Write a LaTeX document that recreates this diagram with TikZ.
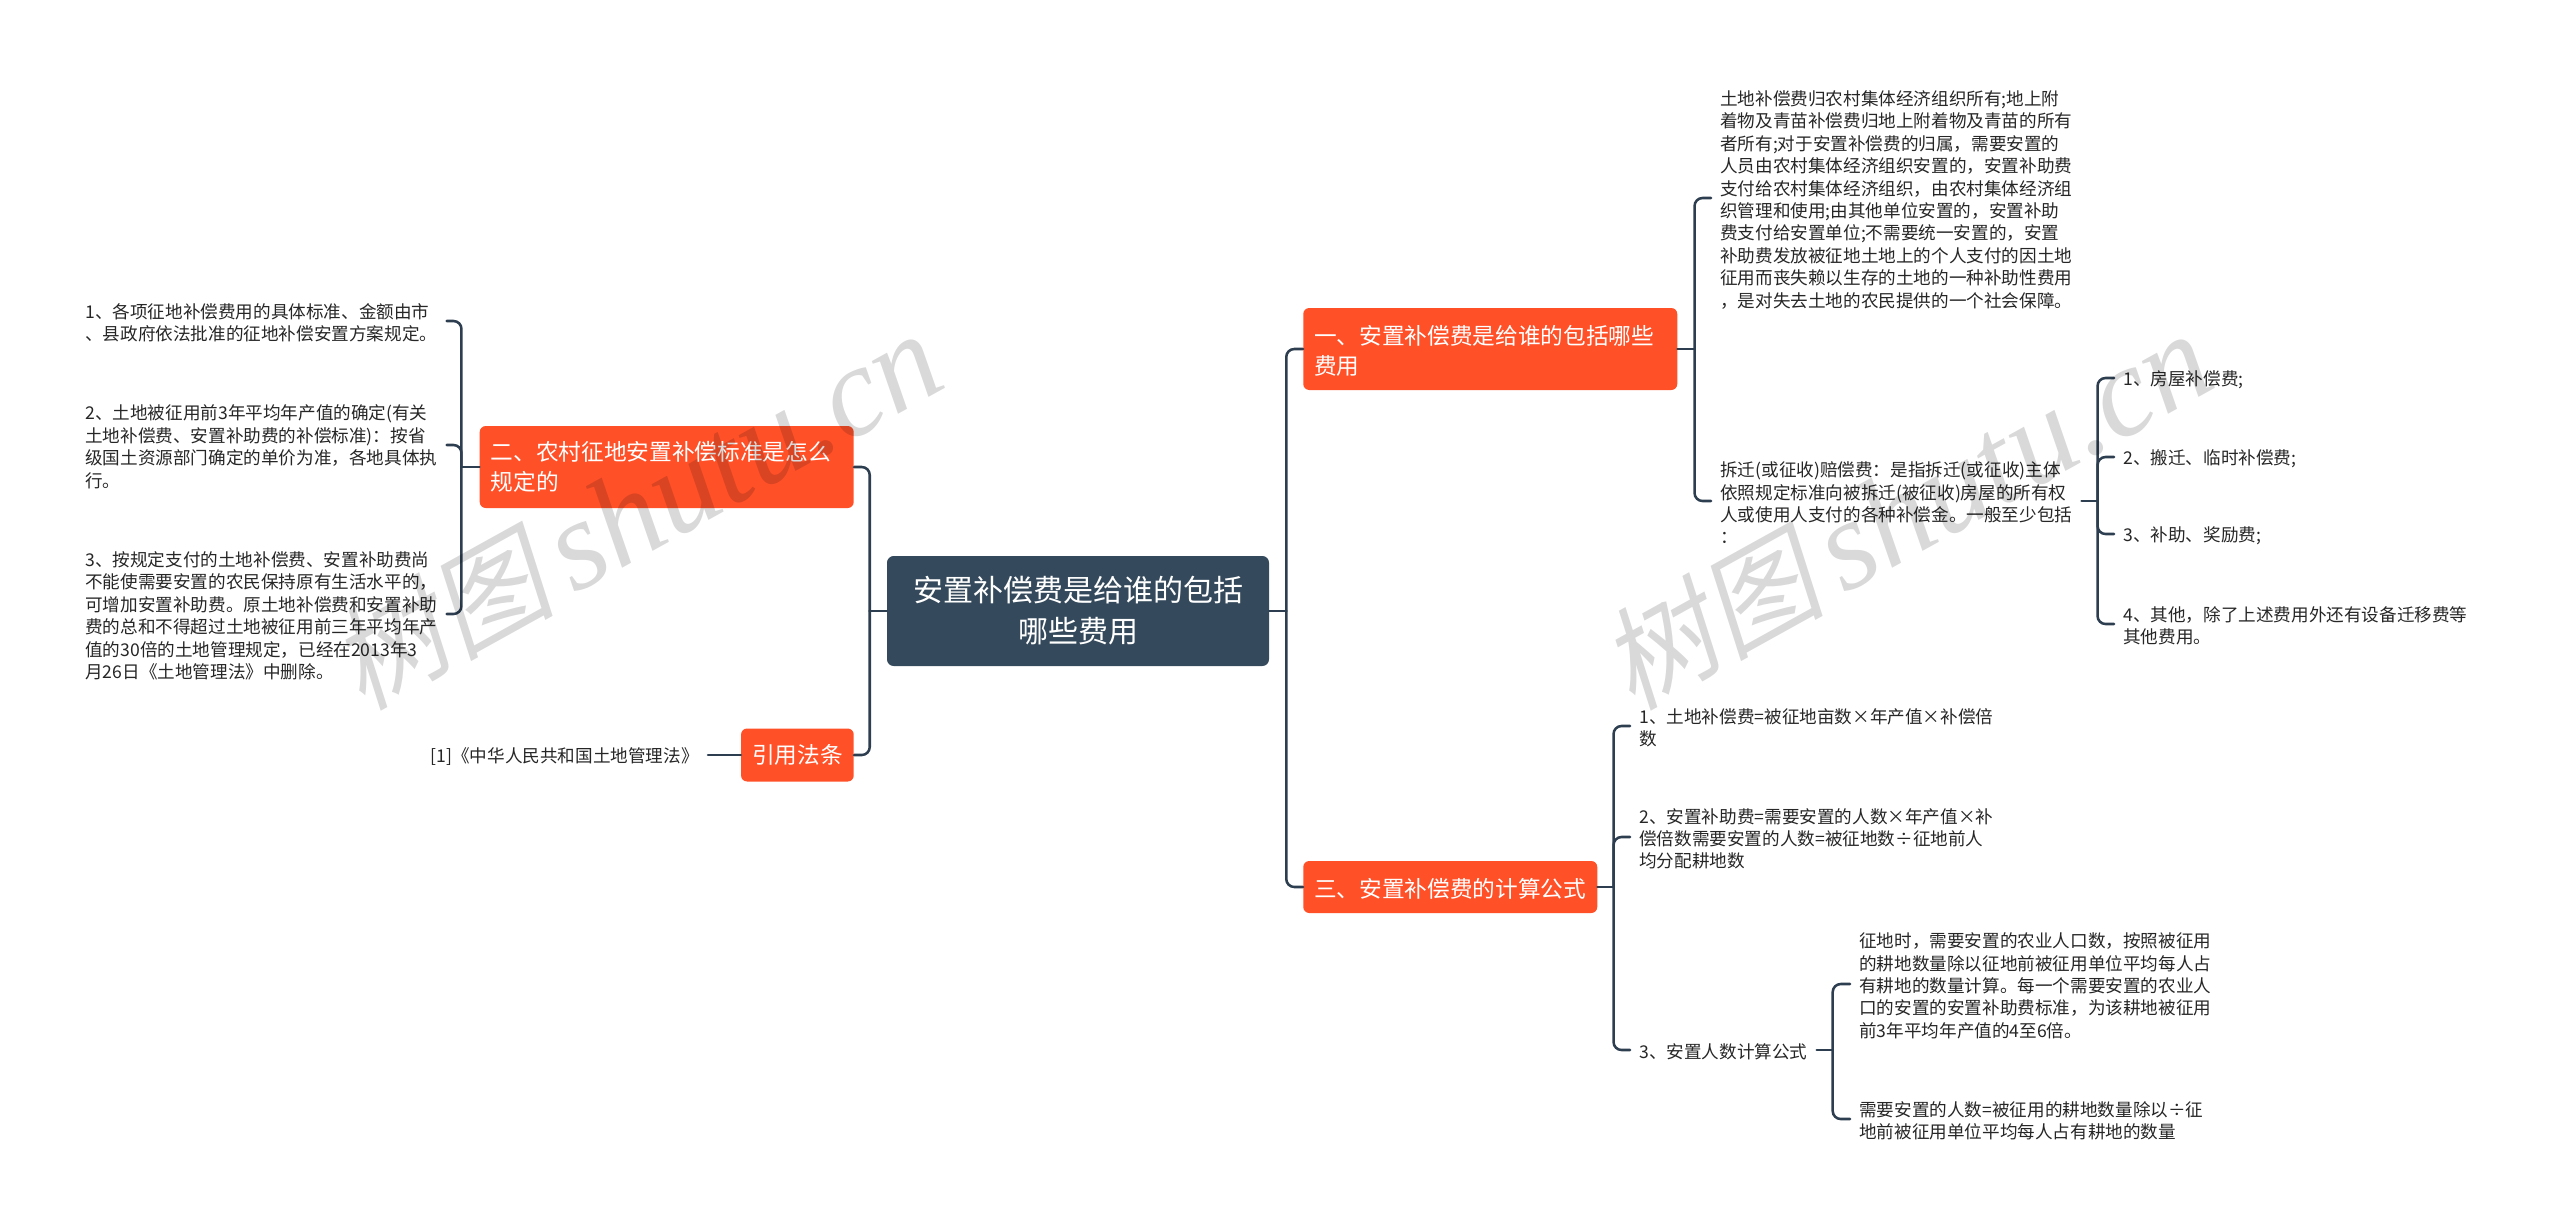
\documentclass[tikz,border=0pt]{standalone}
\usepackage{fontspec}
\setmainfont{Noto Sans CJK SC}
\newfontfamily\wmcjk[FakeSlant=0.2]{Noto Sans CJK SC}
\newfontfamily\wmlat{Liberation Serif}[ItalicFont={Liberation Serif Italic}]
\definecolor{linedark}{HTML}{2C3E50}
\definecolor{rootfill}{HTML}{34495B}
\definecolor{branchfill}{HTML}{FF5028}
\definecolor{leaftext}{HTML}{262626}
\newcommand{\leafstrut}{\rule{0pt}{1.05em}}
\tikzset{
  conn/.style={draw=linedark,line width=1.9pt,line cap=round},
  elbow/.style={conn,rounded corners=6pt},
  rootnode/.style={rectangle,rounded corners=5pt,fill=rootfill,text=white,inner sep=0pt,align=center,
    minimum width=286.5pt,minimum height=82.5pt,font=\fontsize{22.5}{30.75}\selectfont},
  branch/.style={rectangle,rounded corners=4.5pt,fill=branchfill,text=white,inner ysep=0pt,inner xsep=8.25pt,align=left,
    font=\fontsize{17}{22.5}\selectfont},
  leaf/.style={inner ysep=0pt,inner xsep=6.75pt,align=left,text=leaftext,
    font=\fontsize{13.2}{16.8}\selectfont},
  watermark/.style={rotate=29,anchor=base west,inner sep=0pt,text=black,text opacity=0.15}
}
\begin{document}
\begin{tikzpicture}[x=0.75pt,y=-0.75pt]
\useasboundingbox (0,0) rectangle (2560,1225);
\node[rootnode] (root) at (1078,611) {安置补偿费是给谁的包括\\哪些费用};
\node[branch,anchor=west,text width=264pt,minimum height=61.5pt] (b1) at (1303,349) {\rule{0pt}{1.05em}一、安置补偿费是给谁的包括哪些\\费用};
\node[branch,anchor=east,text width=264pt,minimum height=61.5pt] (b2) at (854,467) {二、农村征地安置补偿标准是怎么\\规定的};
\node[branch,anchor=east,minimum height=39.75pt] (b4) at (854,755) {引用法条};
\node[branch,anchor=west,minimum height=39pt] (b3) at (1303,887) {\rule{0pt}{1.05em}三、安置补偿费的计算公式};

\node[leaf,anchor=west,text width=264pt] (r1) at (1711,198) {\leafstrut 土地补偿费归农村集体经济组织所有;地上附\\着物及青苗补偿费归地上附着物及青苗的所有\\者所有;对于安置补偿费的归属，需要安置的\\人员由农村集体经济组织安置的，安置补助费\\支付给农村集体经济组织，由农村集体经济组\\织管理和使用;由其他单位安置的，安置补助\\费支付给安置单位;不需要统一安置的，安置\\补助费发放被征地土地上的个人支付的因土地\\征用而丧失赖以生存的土地的一种补助性费用\\，是对失去土地的农民提供的一个社会保障。};
\node[leaf,anchor=west,text width=264pt] (r2) at (1711,501) {\leafstrut 拆迁(或征收)赔偿费：是指拆迁(或征收)主体\\依照规定标准向被拆迁(被征收)房屋的所有权\\人或使用人支付的各种补偿金。一般至少包括\\：};
\node[leaf,anchor=west] (s1) at (2114,378) {\leafstrut 1、房屋补偿费;};
\node[leaf,anchor=west] (s2) at (2114,457) {\leafstrut 2、搬迁、临时补偿费;};
\node[leaf,anchor=west] (s3) at (2114,534) {\leafstrut 3、补助、奖励费;};
\node[leaf,anchor=west] (s4) at (2114,624) {\leafstrut 4、其他，除了上述费用外还有设备迁移费等\\其他费用。};

\node[leaf,anchor=west,text width=264pt] (l1) at (76,321) {\leafstrut 1、各项征地补偿费用的具体标准、金额由市\\、县政府依法批准的征地补偿安置方案规定。};
\node[leaf,anchor=west,text width=264pt] (l2) at (76,445) {\leafstrut 2、土地被征用前3年平均年产值的确定(有关\\土地补偿费、安置补助费的补偿标准)：按省\\级国土资源部门确定的单价为准，各地具体执\\行。};
\node[leaf,anchor=west,text width=264pt] (l3) at (76,614) {\leafstrut 3、按规定支付的土地补偿费、安置补助费尚\\不能使需要安置的农民保持原有生活水平的，\\可增加安置补助费。原土地补偿费和安置补助\\费的总和不得超过土地被征用前三年平均年产\\值的30倍的土地管理规定，已经在2013年3\\月26日《土地管理法》中删除。};
\node[leaf,anchor=east] (cite) at (708,755) {\leafstrut [1]《中华人民共和国土地管理法》};

\node[leaf,anchor=west] (f1) at (1630,726) {\leafstrut 1、土地补偿费=被征地亩数×年产值×补偿倍\\数};
\node[leaf,anchor=west] (f2) at (1630,837) {\leafstrut 2、安置补助费=需要安置的人数×年产值×补\\偿倍数需要安置的人数=被征地数÷征地前人\\均分配耕地数};
\node[leaf,anchor=west] (f3) at (1630,1050) {\leafstrut 3、安置人数计算公式};
\node[leaf,anchor=west] (g1) at (1850,984) {\leafstrut 征地时，需要安置的农业人口数，按照被征用\\的耕地数量除以征地前被征用单位平均每人占\\有耕地的数量计算。每一个需要安置的农业人\\口的安置的安置补助费标准，为该耕地被征用\\前3年平均年产值的4至6倍。};
\node[leaf,anchor=west] (g2) at (1850,1119) {\leafstrut 需要安置的人数=被征用的耕地数量除以÷征\\地前被征用单位平均每人占有耕地的数量};

\draw[conn] (root.east) -- ++(17,0) coordinate (jr);
\draw[conn] (root.west) -- ++(-17,0) coordinate (jl);
\draw[elbow] (jr) |- (b1.west);
\draw[elbow] (jr) |- (b3.west);
\draw[elbow] (jl) |- (b2.east);
\draw[elbow] (jl) |- (b4.east);
\draw[conn] (b1.east) -- ++(17,0) coordinate (j1);
\draw[elbow] (j1) |- (r1.west);
\draw[elbow] (j1) |- (r2.west);
\draw[conn] (r2.east) -- ++(16,0) coordinate (j2);
\draw[elbow] (j2) |- (s1.west);
\draw[elbow] (j2) |- (s2.west);
\draw[elbow] (j2) |- (s3.west);
\draw[elbow] (j2) |- (s4.west);
\draw[conn] (b2.west) -- ++(-18,0) coordinate (j3);
\draw[elbow] (j3) |- (l1.east);
\draw[elbow] (j3) |- (l2.east);
\draw[elbow] (j3) |- (l3.east);
\draw[conn] (b4.west) -- (cite.east);
\draw[conn] (b3.east) -- ++(16,0) coordinate (j4);
\draw[elbow] (j4) |- (f1.west);
\draw[elbow] (j4) |- (f2.west);
\draw[elbow] (j4) |- (f3.west);
\draw[conn] (f3.east) -- ++(16,0) coordinate (j5);
\draw[elbow] (j5) |- (g1.west);
\draw[elbow] (j5) |- (g2.west);
\node[watermark] (w1) at (362,712) {{\fontsize{84}{84}\selectfont\wmcjk 树图}\hspace{14pt}{\fontsize{96}{96}\selectfont\wmlat\itshape shutu.cn}};
\node[watermark] (w2) at (1632,712) {{\fontsize{84}{84}\selectfont\wmcjk 树图}\hspace{14pt}{\fontsize{96}{96}\selectfont\wmlat\itshape shutu.cn}};
\end{tikzpicture}
\end{document}
